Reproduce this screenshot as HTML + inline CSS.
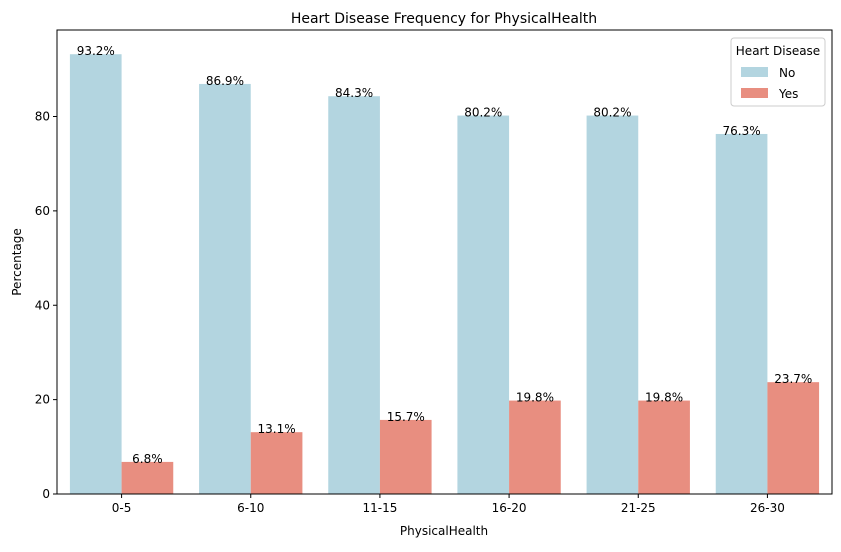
<!DOCTYPE html>
<html><head><meta charset="utf-8"><style>
body{margin:0;background:#fff;font-family:"Liberation Sans","DejaVu Sans",sans-serif;}
svg text{font-family:"DejaVu Sans","Liberation Sans",sans-serif;}
</style></head><body>
<svg id="chart" width="841" height="547" xmlns="http://www.w3.org/2000/svg">
<text x="444" y="23" font-size="14" text-anchor="middle">Heart Disease Frequency for PhysicalHealth</text>
<g id="bars"></g>
<g id="axes"></g>
<text x="444" y="535" font-size="12" text-anchor="middle">PhysicalHealth</text>
<text transform="translate(21,262) rotate(-90)" font-size="12" text-anchor="middle">Percentage</text>
<g>
<rect x="731" y="38" width="94" height="68" fill="#fff" stroke="#ccc" rx="3"/>
<text x="778" y="55" font-size="12" text-anchor="middle">Heart Disease</text>
<rect x="741" y="67" width="27" height="10" fill="#b3d5e0"/>
<text x="779" y="77" font-size="12">No</text>
<rect x="741" y="88" width="27" height="10" fill="#e88e80"/>
<text x="779" y="98" font-size="12">Yes</text>
</g>
</svg>
<script>
const categories=["0-5","6-10","11-15","16-20","21-25","26-30"];
const noValues=[93.2,86.9,84.3,80.2,80.2,76.3];
const yesValues=[6.8,13.1,15.7,19.8,19.8,23.7];
const yTicks=[0,20,40,60,80];
const L=57,R=832,T=30,B=494;
const ns="http://www.w3.org/2000/svg";
const y=v=>B-v*(B-116.5)/80;
const gw=(R-L)/categories.length;
const x=i=>L+gw*(i+0.5);
const bw=gw*0.4;
const bars=document.getElementById('bars'),axes=document.getElementById('axes');
function mk(p,tag,a){const e=document.createElementNS(ns,tag);for(const k in a)e.setAttribute(k,a[k]);p.appendChild(e);return e;}
categories.forEach((c,i)=>{
 [[noValues,'#b3d5e0',-1,'no'],[yesValues,'#e88e80',0,'yes']].forEach(([arr,col,off,nm])=>{
  const v=arr[i],bx=x(i)+off*bw;
  const r=mk(bars,'rect',{x:bx,y:y(v),width:bw,height:B-y(v),fill:col});
  
  
  const t=mk(bars,'text',{x:bx+bw/2,y:y(v)+1,'font-size':12,'text-anchor':'middle'});
  t.textContent=v.toFixed(1)+'%';
  
  
 });
 mk(axes,'line',{x1:x(i),x2:x(i),y1:B,y2:B+4,stroke:'#000'});
 const t=mk(axes,'text',{x:x(i),y:B+18,'font-size':12,'text-anchor':'middle'});
 t.textContent=c;
 
 
});
yTicks.forEach(v=>{
 mk(axes,'line',{x1:L-4,x2:L,y1:y(v),y2:y(v),stroke:'#000'});
 const t=mk(axes,'text',{x:L-7,y:y(v)+4,'font-size':12,'text-anchor':'end'});
 t.textContent=v;
 
 
});
const f=mk(axes,'rect',{x:L,y:T,width:R-L,height:B-T,fill:'none',stroke:'#000','stroke-width':1});


</script>
</body></html>
